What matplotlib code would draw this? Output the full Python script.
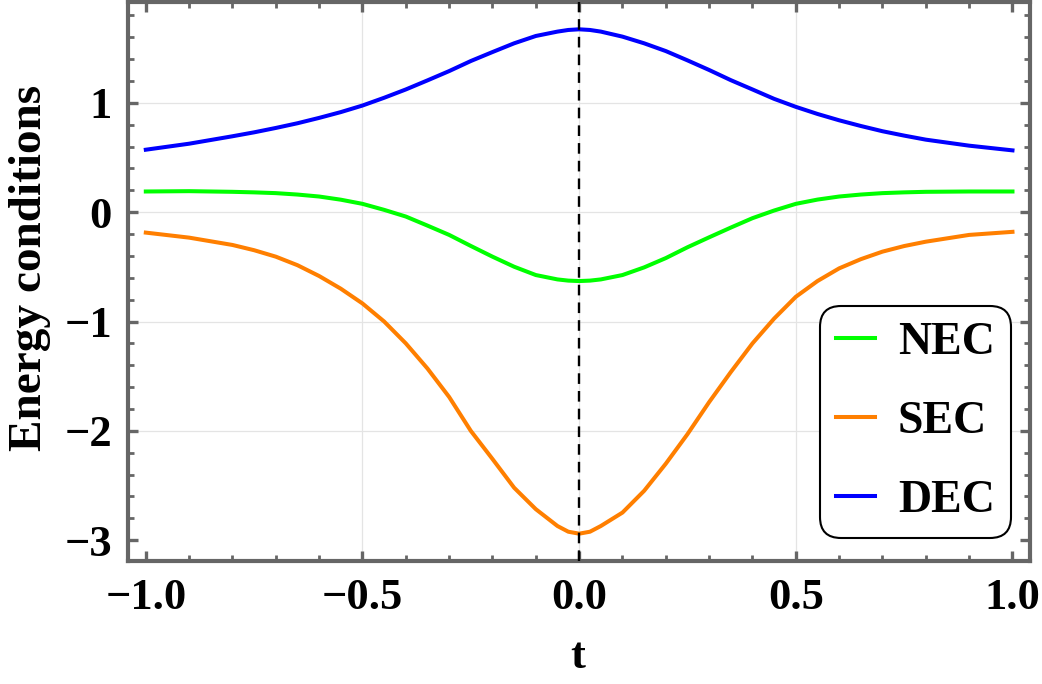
import numpy as np
import matplotlib
matplotlib.use("Agg")
import matplotlib.pyplot as plt
from matplotlib.ticker import MultipleLocator

# values
t = [-1.0, -0.9, -0.8, -0.75, -0.7, -0.65, -0.6, -0.55, -0.5, -0.45, -0.4, -0.35, -0.3, -0.25, -0.2, -0.15,
     -0.1, -0.05, -0.025, 0.0, 0.025, 0.05, 0.1, 0.15, 0.2, 0.25, 0.3, 0.35, 0.4, 0.45, 0.5, 0.55, 0.6,
     0.65, 0.7, 0.75, 0.8, 0.9, 1.0]
nec = [0.189, 0.192, 0.186, 0.181, 0.174, 0.161, 0.143, 0.114, 0.076, 0.021, -0.04, -0.123, -0.208, -0.309, -0.407, -0.499,
       -0.575, -0.615, -0.626, -0.63, -0.626, -0.615, -0.575, -0.505, -0.42, -0.321, -0.23, -0.141, -0.055, 0.015, 0.076, 0.115, 0.143,
       0.161, 0.174, 0.181, 0.186, 0.189, 0.189]
sec = [-0.187, -0.233, -0.3, -0.348, -0.407, -0.485, -0.584, -0.70, -0.835, -1.0, -1.2, -1.43, -1.69, -2.0, -2.257, -2.52,
       -2.716, -2.87, -2.922, -2.94, -2.922, -2.87, -2.747, -2.548, -2.30, -2.03, -1.737, -1.462, -1.2, -0.973, -0.774, -0.63, -0.514,
       -0.43, -0.361, -0.31, -0.27, -0.208, -0.18]
dec = [0.571, 0.626, 0.694, 0.73, 0.77, 0.813, 0.862, 0.915, 0.975, 1.046, 1.122, 1.205, 1.29, 1.382, 1.464, 1.544,
       1.611, 1.651, 1.666, 1.672, 1.666, 1.651, 1.605, 1.544, 1.473, 1.388, 1.30, 1.207, 1.122, 1.036, 0.963, 0.898, 0.84,
       0.788, 0.74, 0.70, 0.663, 0.608, 0.565]
series_names = ["NEC", "SEC", "DEC"]
series_colors = ["#00ff00", "#ff7f00", "#0000ff"]
xticks = [-1.0, -0.5, 0.0, 0.5, 1.0]
yticks = [-3, -2, -1, 0, 1]
grid_x = [-0.5, 0.0, 0.5]
grid_y = [-2, -1, 0, 1]

plt.rcParams['font.family'] = ['Liberation Serif', 'DejaVu Serif']
plt.rcParams['font.weight'] = 'bold'

fig = plt.figure(figsize=(10.42, 6.84), dpi=100)
ax = fig.add_axes([0.1233, 0.1798, 0.865, 0.817])

frame_col = "#666666"
for gx in grid_x:
    ax.axvline(gx, color="#e4e4e4", lw=0.9, zorder=0)
for gy in grid_y:
    ax.axhline(gy, color="#e4e4e4", lw=0.9, zorder=0)

for vals, name, col in zip([nec, sec, dec], series_names, series_colors):
    ax.plot(t, vals, color=col, lw=2.9, label=name, solid_joinstyle='round')

ax.axvline(0.0, color="black", lw=1.7, ls=(0, (4.5, 3)), zorder=3)

ax.set_xlim(-1.04, 1.04)
ax.set_ylim(-3.19, 1.92)
ax.set_xticks(xticks)
ax.set_xticklabels(["\u22121.0", "\u22120.5", "0.0", "0.5", "1.0"])
ax.set_yticks(yticks)
ax.set_yticklabels(["\u22123", "\u22122", "\u22121", "0", "1"])
ax.xaxis.set_minor_locator(MultipleLocator(0.1))
ax.yaxis.set_minor_locator(MultipleLocator(0.2))
ax.tick_params(which='both', direction='in', top=True, right=True, color=frame_col)
ax.tick_params(which='major', length=7, width=2.4, labelsize=32, pad=12)
ax.tick_params(which='minor', length=4, width=2.0)
for sp in ax.spines.values():
    sp.set_color(frame_col)
    sp.set_linewidth(3.0)

fig.text(578 / 1042, 1 - 657 / 684, "t", fontsize=32, fontweight='bold', ha='center', va='center')
fig.text(30 / 1042, 1 - 268 / 684, "Energy conditions", fontsize=34, fontweight='bold',
         ha='center', va='center', rotation=90)

leg = ax.legend(loc='upper left', bbox_to_anchor=(820 / 1042, 1 - 306 / 684), bbox_transform=fig.transFigure,
                prop={'family': 'Liberation Serif', 'weight': 'bold', 'size': 33},
                handlelength=0.85, handletextpad=0.5, labelspacing=0.8, borderpad=0.35,
                borderaxespad=0, frameon=True, fancybox=True, framealpha=1)
fr = leg.get_frame()
fr.set_edgecolor("black")
fr.set_linewidth(1.5)
fr.set_boxstyle("round,pad=0,rounding_size=0.45")

fig.savefig("out.png", dpi=100)
